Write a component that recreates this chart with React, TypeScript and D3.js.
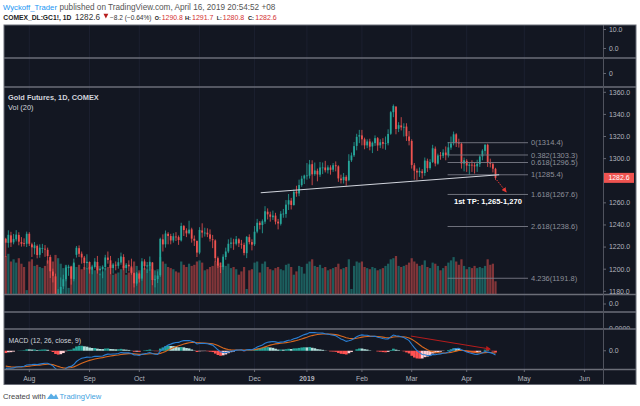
import { useRef, useEffect } from 'react';
import * as d3 from 'd3';

// date, open, high, low, close, volume (k contracts)
type Bar = [string, number, number, number, number, number];

const bars: Bar[] = [
  ['2018-07-19', 1227.5, 1228.4, 1211.1, 1224.0, 350],
  ['2018-07-20', 1223.8, 1235.2, 1219.5, 1231.1, 370],
  ['2018-07-23', 1230.6, 1233.8, 1220.1, 1224.1, 300],
  ['2018-07-24', 1224.3, 1231.9, 1222.5, 1227.4, 320],
  ['2018-07-25', 1227.0, 1235.3, 1225.1, 1231.3, 290],
  ['2018-07-26', 1231.0, 1233.4, 1221.6, 1224.9, 330],
  ['2018-07-27', 1224.5, 1229.0, 1220.4, 1223.0, 280],
  ['2018-07-30', 1223.5, 1227.9, 1220.6, 1223.0, 250],
  ['2018-07-31', 1223.0, 1234.0, 1220.0, 1232.0, 40],
  ['2018-08-01', 1232.0, 1233.5, 1221.0, 1223.0, 300],
  ['2018-08-02', 1222.5, 1224.0, 1211.0, 1219.8, 320],
  ['2018-08-03', 1219.0, 1224.5, 1213.4, 1221.6, 260],
  ['2018-08-06', 1221.0, 1222.3, 1209.8, 1212.8, 270],
  ['2018-08-07', 1213.0, 1222.5, 1210.4, 1219.5, 250],
  ['2018-08-08', 1219.0, 1222.9, 1214.6, 1219.0, 240],
  ['2018-08-09', 1218.5, 1221.8, 1211.2, 1218.0, 260],
  ['2018-08-10', 1217.5, 1219.5, 1205.0, 1211.9, 310],
  ['2018-08-13', 1211.0, 1213.0, 1192.0, 1198.1, 340],
  ['2018-08-14', 1197.9, 1200.5, 1188.0, 1194.0, 300],
  ['2018-08-15', 1193.5, 1196.0, 1167.0, 1174.2, 360],
  ['2018-08-16', 1174.5, 1182.0, 1167.1, 1177.7, 330],
  ['2018-08-17', 1177.0, 1192.5, 1175.0, 1184.0, 280],
  ['2018-08-20', 1184.5, 1195.0, 1182.0, 1190.9, 240],
  ['2018-08-21', 1191.0, 1203.5, 1189.0, 1201.6, 270],
  ['2018-08-22', 1201.0, 1204.0, 1194.0, 1202.3, 60],
  ['2018-08-23', 1202.0, 1203.0, 1186.0, 1191.4, 260],
  ['2018-08-24', 1191.0, 1209.5, 1189.0, 1206.0, 280],
  ['2018-08-27', 1213.0, 1221.0, 1210.5, 1219.4, 250],
  ['2018-08-28', 1219.0, 1221.5, 1211.0, 1213.9, 270],
  ['2018-08-29', 1214.0, 1216.0, 1205.0, 1210.6, 230],
  ['2018-08-30', 1210.5, 1212.0, 1199.5, 1205.6, 250],
  ['2018-08-31', 1205.5, 1213.5, 1200.0, 1206.7, 240],
  ['2018-09-04', 1206.5, 1207.0, 1196.0, 1199.8, 250],
  ['2018-09-05', 1199.5, 1204.0, 1195.4, 1202.4, 230],
  ['2018-09-06', 1202.0, 1210.0, 1200.5, 1206.9, 220],
  ['2018-09-07', 1206.5, 1212.0, 1196.0, 1199.0, 260],
  ['2018-09-10', 1199.0, 1203.0, 1194.5, 1200.5, 190],
  ['2018-09-11', 1200.0, 1203.5, 1191.8, 1202.2, 210],
  ['2018-09-12', 1202.0, 1213.0, 1199.0, 1210.6, 240],
  ['2018-09-13', 1210.5, 1216.0, 1205.0, 1208.4, 250],
  ['2018-09-14', 1208.0, 1212.0, 1195.5, 1201.1, 270],
  ['2018-09-17', 1201.0, 1205.5, 1196.0, 1204.2, 180],
  ['2018-09-18', 1204.0, 1207.0, 1199.0, 1203.4, 190],
  ['2018-09-19', 1203.0, 1210.0, 1200.5, 1206.3, 200],
  ['2018-09-20', 1206.0, 1215.0, 1204.0, 1211.5, 230],
  ['2018-09-21', 1211.0, 1213.5, 1199.0, 1201.1, 260],
  ['2018-09-24', 1201.0, 1205.5, 1196.5, 1204.0, 180],
  ['2018-09-25', 1204.0, 1208.0, 1198.0, 1202.6, 200],
  ['2018-09-26', 1202.5, 1209.5, 1195.0, 1196.7, 240],
  ['2018-09-27', 1196.5, 1197.0, 1183.5, 1187.2, 300],
  ['2018-09-28', 1187.0, 1197.5, 1185.0, 1196.2, 260],
  ['2018-10-01', 1196.0, 1197.0, 1188.0, 1191.4, 220],
  ['2018-10-02', 1191.5, 1210.0, 1189.5, 1207.1, 290],
  ['2018-10-03', 1207.0, 1209.0, 1199.5, 1202.8, 240],
  ['2018-10-04', 1202.5, 1206.5, 1196.5, 1203.4, 230],
  ['2018-10-05', 1203.0, 1211.5, 1198.5, 1206.7, 270],
  ['2018-10-08', 1206.0, 1206.5, 1185.5, 1190.2, 230],
  ['2018-10-09', 1190.0, 1194.5, 1183.5, 1191.0, 220],
  ['2018-10-10', 1191.0, 1198.0, 1187.5, 1194.2, 230],
  ['2018-10-11', 1194.5, 1228.5, 1193.0, 1227.4, 340],
  ['2018-10-12', 1227.0, 1231.5, 1216.0, 1222.4, 300],
  ['2018-10-15', 1222.5, 1235.0, 1219.5, 1232.3, 280],
  ['2018-10-16', 1232.0, 1233.5, 1222.5, 1230.0, 250],
  ['2018-10-17', 1230.0, 1232.0, 1222.5, 1226.0, 240],
  ['2018-10-18', 1226.0, 1232.5, 1224.0, 1229.8, 230],
  ['2018-10-19', 1229.5, 1233.5, 1225.5, 1229.1, 210],
  ['2018-10-22', 1229.0, 1230.5, 1222.0, 1226.4, 200],
  ['2018-10-23', 1226.0, 1242.0, 1225.0, 1239.1, 300],
  ['2018-10-24', 1239.0, 1240.0, 1230.0, 1235.4, 270],
  ['2018-10-25', 1235.0, 1237.0, 1229.0, 1232.4, 250],
  ['2018-10-26', 1232.5, 1243.8, 1231.5, 1235.8, 280],
  ['2018-10-29', 1236.0, 1237.5, 1224.0, 1227.6, 260],
  ['2018-10-30', 1227.5, 1230.5, 1221.0, 1225.8, 270],
  ['2018-10-31', 1225.5, 1226.0, 1211.0, 1215.0, 300],
  ['2018-11-01', 1215.0, 1238.0, 1213.5, 1235.5, 310],
  ['2018-11-02', 1235.0, 1241.5, 1228.5, 1233.1, 290],
  ['2018-11-05', 1233.0, 1237.5, 1229.5, 1233.1, 220],
  ['2018-11-06', 1233.0, 1237.0, 1229.0, 1231.5, 230],
  ['2018-11-07', 1231.5, 1236.0, 1225.0, 1227.5, 250],
  ['2018-11-08', 1227.0, 1231.0, 1219.0, 1226.4, 260],
  ['2018-11-09', 1226.0, 1227.0, 1206.5, 1210.0, 300],
  ['2018-11-12', 1210.0, 1211.5, 1201.0, 1203.2, 280],
  ['2018-11-13', 1203.0, 1206.0, 1196.5, 1202.3, 290],
  ['2018-11-14', 1202.0, 1213.5, 1199.5, 1211.3, 270],
  ['2018-11-15', 1211.0, 1219.5, 1208.5, 1216.0, 260],
  ['2018-11-16', 1216.0, 1227.0, 1214.5, 1223.0, 280],
  ['2018-11-19', 1223.0, 1228.5, 1219.0, 1224.1, 240],
  ['2018-11-20', 1224.0, 1227.5, 1217.5, 1223.3, 250],
  ['2018-11-21', 1223.0, 1230.0, 1221.5, 1227.2, 230],
  ['2018-11-23', 1227.0, 1228.0, 1220.0, 1223.4, 180],
  ['2018-11-26', 1223.0, 1226.5, 1218.5, 1222.2, 210],
  ['2018-11-27', 1222.0, 1224.0, 1212.5, 1214.7, 250],
  ['2018-11-28', 1214.5, 1230.0, 1210.0, 1229.2, 50],
  ['2018-11-29', 1229.0, 1231.5, 1222.5, 1224.5, 220],
  ['2018-11-30', 1224.5, 1227.0, 1217.0, 1222.2, 230],
  ['2018-12-03', 1222.5, 1239.0, 1221.0, 1233.9, 290],
  ['2018-12-04', 1234.0, 1245.5, 1232.5, 1242.0, 300],
  ['2018-12-05', 1242.0, 1243.5, 1236.0, 1240.0, 200],
  ['2018-12-06', 1240.0, 1245.0, 1232.5, 1243.4, 280],
  ['2018-12-07', 1243.0, 1257.0, 1241.0, 1252.4, 300],
  ['2018-12-10', 1252.0, 1255.0, 1245.0, 1249.6, 250],
  ['2018-12-11', 1249.5, 1252.0, 1243.0, 1247.4, 230],
  ['2018-12-12', 1247.0, 1253.0, 1244.5, 1248.5, 220],
  ['2018-12-13', 1248.5, 1251.0, 1240.5, 1243.0, 240],
  ['2018-12-14', 1243.0, 1245.5, 1236.0, 1241.4, 250],
  ['2018-12-17', 1241.0, 1252.5, 1239.5, 1250.1, 230],
  ['2018-12-18', 1250.0, 1254.5, 1246.5, 1250.3, 220],
  ['2018-12-19', 1250.0, 1262.5, 1246.5, 1258.4, 270],
  ['2018-12-20', 1258.5, 1268.0, 1253.5, 1262.4, 280],
  ['2018-12-21', 1262.0, 1264.5, 1254.0, 1258.1, 250],
  ['2018-12-24', 1258.0, 1272.0, 1257.5, 1269.9, 180],
  ['2018-12-26', 1270.0, 1275.5, 1265.5, 1268.6, 210],
  ['2018-12-27', 1268.5, 1281.0, 1266.0, 1276.1, 260],
  ['2018-12-28', 1276.0, 1284.5, 1274.5, 1281.9, 250],
  ['2018-12-31', 1282.0, 1285.5, 1277.0, 1284.7, 190],
  ['2019-01-02', 1284.5, 1296.0, 1281.0, 1284.8, 280],
  ['2019-01-03', 1284.5, 1298.8, 1282.0, 1294.8, 300],
  ['2019-01-04', 1295.0, 1298.5, 1276.0, 1285.8, 320],
  ['2019-01-07', 1286.0, 1296.5, 1284.5, 1289.3, 260],
  ['2019-01-08', 1289.0, 1291.0, 1279.5, 1285.7, 250],
  ['2019-01-09', 1285.5, 1297.0, 1283.5, 1292.0, 270],
  ['2019-01-10', 1292.0, 1296.5, 1286.0, 1292.0, 240],
  ['2019-01-11', 1292.0, 1298.0, 1287.5, 1289.5, 250],
  ['2019-01-14', 1289.5, 1294.0, 1286.5, 1292.1, 220],
  ['2019-01-15', 1292.0, 1294.0, 1285.5, 1289.8, 230],
  ['2019-01-16', 1290.0, 1296.0, 1288.0, 1294.0, 240],
  ['2019-01-17', 1294.0, 1297.5, 1288.5, 1293.1, 250],
  ['2019-01-18', 1293.0, 1294.0, 1279.0, 1282.1, 280],
  ['2019-01-22', 1282.0, 1285.5, 1277.5, 1280.5, 230],
  ['2019-01-23', 1280.5, 1287.0, 1277.5, 1283.5, 240],
  ['2019-01-24', 1283.5, 1285.0, 1275.5, 1280.0, 250],
  ['2019-01-25', 1280.5, 1304.0, 1279.5, 1298.0, 320],
  ['2019-01-28', 1298.5, 1305.5, 1297.0, 1302.9, 50],
  ['2019-01-29', 1303.0, 1315.0, 1301.5, 1311.3, 260],
  ['2019-01-30', 1311.5, 1322.5, 1307.5, 1319.7, 300],
  ['2019-01-31', 1320.0, 1326.0, 1314.0, 1321.2, 290],
  ['2019-02-01', 1321.0, 1326.0, 1312.0, 1317.5, 300],
  ['2019-02-04', 1317.5, 1319.0, 1308.5, 1312.0, 250],
  ['2019-02-05', 1312.0, 1317.5, 1309.5, 1315.5, 240],
  ['2019-02-06', 1315.5, 1318.0, 1307.5, 1310.8, 230],
  ['2019-02-07', 1311.0, 1315.5, 1305.0, 1314.4, 250],
  ['2019-02-08', 1314.0, 1321.0, 1311.5, 1318.5, 240],
  ['2019-02-11', 1318.5, 1319.5, 1307.0, 1311.9, 220],
  ['2019-02-12', 1312.0, 1317.5, 1309.5, 1314.8, 230],
  ['2019-02-13', 1315.0, 1318.5, 1309.0, 1313.4, 240],
  ['2019-02-14', 1313.5, 1320.0, 1308.0, 1314.2, 260],
  ['2019-02-15', 1314.0, 1326.5, 1312.0, 1322.3, 280],
  ['2019-02-19', 1322.5, 1343.0, 1321.5, 1342.0, 320],
  ['2019-02-20', 1342.0, 1349.0, 1337.5, 1347.6, 330],
  ['2019-02-21', 1347.0, 1347.5, 1322.0, 1326.8, 350],
  ['2019-02-22', 1327.0, 1333.0, 1324.0, 1330.3, 260],
  ['2019-02-25', 1330.0, 1337.5, 1325.5, 1328.3, 250],
  ['2019-02-26', 1328.0, 1332.0, 1320.0, 1328.8, 260],
  ['2019-02-27', 1329.0, 1332.0, 1316.0, 1320.3, 270],
  ['2019-02-28', 1320.0, 1325.0, 1312.0, 1316.1, 290],
  ['2019-03-01', 1316.0, 1317.5, 1291.0, 1294.3, 330],
  ['2019-03-04', 1294.0, 1296.0, 1281.0, 1289.1, 300],
  ['2019-03-05', 1289.0, 1291.0, 1280.5, 1287.5, 280],
  ['2019-03-06', 1287.5, 1292.0, 1283.5, 1288.8, 260],
  ['2019-03-07', 1288.5, 1290.5, 1282.0, 1286.9, 270],
  ['2019-03-08', 1287.0, 1301.0, 1284.5, 1298.3, 310],
  ['2019-03-11', 1298.0, 1300.0, 1288.0, 1291.4, 250],
  ['2019-03-12', 1291.5, 1299.5, 1290.0, 1296.9, 240],
  ['2019-03-13', 1297.0, 1312.5, 1296.0, 1309.4, 290],
  ['2019-03-14', 1309.0, 1311.0, 1293.0, 1295.6, 280],
  ['2019-03-15', 1295.5, 1304.5, 1294.5, 1302.9, 260],
  ['2019-03-18', 1303.0, 1306.0, 1299.0, 1302.4, 220],
  ['2019-03-19', 1302.5, 1308.5, 1300.5, 1305.5, 240],
  ['2019-03-20', 1305.5, 1311.0, 1298.5, 1303.0, 260],
  ['2019-03-21', 1303.0, 1315.0, 1301.0, 1310.2, 290],
  ['2019-03-22', 1310.0, 1320.0, 1308.0, 1313.7, 310],
  ['2019-03-25', 1314.0, 1324.5, 1312.0, 1322.0, 340],
  ['2019-03-26', 1322.0, 1323.0, 1310.5, 1314.4, 300],
  ['2019-03-27', 1314.5, 1318.0, 1310.0, 1313.8, 270],
  ['2019-03-28', 1313.5, 1314.5, 1291.0, 1295.5, 320],
  ['2019-03-29', 1295.5, 1301.0, 1288.5, 1298.5, 260],
  ['2019-04-01', 1298.0, 1299.5, 1288.0, 1293.7, 230],
  ['2019-04-02', 1293.5, 1296.0, 1285.5, 1294.6, 250],
  ['2019-04-03', 1294.5, 1298.5, 1288.0, 1294.2, 240],
  ['2019-04-04', 1294.0, 1296.5, 1286.5, 1293.0, 260],
  ['2019-04-05', 1293.0, 1299.0, 1288.0, 1295.3, 240],
  ['2019-04-08', 1295.0, 1303.0, 1292.5, 1301.9, 250],
  ['2019-04-09', 1302.0, 1308.5, 1298.5, 1307.2, 240],
  ['2019-04-10', 1307.0, 1313.0, 1304.0, 1312.6, 260],
  ['2019-04-11', 1312.5, 1313.5, 1292.5, 1296.3, 320],
  ['2019-04-12', 1296.0, 1300.0, 1292.0, 1295.3, 270],
  ['2019-04-15', 1295.0, 1296.5, 1287.5, 1290.9, 280],
  ['2019-04-16', 1290.8, 1291.7, 1280.8, 1282.6, 120],
];

// closes before the visible window (Jun 1 - Jul 18 2018), only used to seed the MACD
const warmupCloses = [
  1298.5, 1297.2, 1300.0, 1301.0, 1303.5, 1302.0, 1299.5, 1298.8, 1303.0, 1302.5,
  1278.9, 1281.5, 1276.5, 1273.0, 1270.6, 1272.0, 1268.7, 1260.8, 1256.4, 1250.9,
  1253.2, 1241.7, 1253.3, 1255.9, 1255.8, 1259.6, 1253.2, 1245.7, 1243.4, 1241.0,
  1239.7, 1227.1, 1225.0,
];

const priceTicks = [1180, 1200, 1220, 1240, 1260, 1280, 1300, 1320, 1340, 1360];

const monthTicks = [
  { label: 'Aug', date: '2018-08-01' },
  { label: 'Sep', date: '2018-09-04' },
  { label: 'Oct', date: '2018-10-01' },
  { label: 'Nov', date: '2018-11-01' },
  { label: 'Dec', date: '2018-12-03' },
  { label: '2019', date: '2019-01-02' },
  { label: 'Feb', date: '2019-02-01' },
  { label: 'Mar', date: '2019-03-01' },
  { label: 'Apr', date: '2019-04-01' },
  { label: 'May', date: '2019-05-01' },
  { label: 'Jun', date: '2019-06-03' },
];

const fibLevels = [
  { ratio: '0', price: 1314.4 },
  { ratio: '0.382', price: 1303.3 },
  { ratio: '0.618', price: 1296.5 },
  { ratio: '1', price: 1285.4 },
  { ratio: '1.618', price: 1267.6 },
  { ratio: '2.618', price: 1238.6 },
  { ratio: '4.236', price: 1191.8 },
];

// header pieces: left x, width, text, colour, bold
const headerLine1: [number, number, string, string, boolean][] = [
  [3, 54, 'Wyckoff_Trader', '#2196f3', false],
  [59.5, 217.5, 'published on TradingView.com, April 16, 2019 20:54:52 +08', '#555555', false],
];
const headerLine2: [number, number, string, string, boolean][] = [
  [3.3, 68, 'COMEX_DL:GC1!, 1D', '#222222', true],
  [75, 26, '1282.6', '#333333', false],
  [110, 41.5, '\u22128.2 (\u22120.64%)', '#333333', false],
  [154.8, 6, 'O:', '#222222', true],
  [161.8, 21, '1290.8', '#d32f2f', false],
  [185, 6, 'H:', '#222222', true],
  [192, 21.5, '1291.7', '#d32f2f', false],
  [216.8, 5, 'L:', '#222222', true],
  [222.8, 21.5, '1280.8', '#d32f2f', false],
  [248, 6, 'C:', '#222222', true],
  [255.3, 21.5, '1282.6', '#d32f2f', false],
];

// drawing anchors, in bar index / price units
const fibSpan = [168.7, 199.4];
const trendLine = [[97.35, 1269.1], [188.4, 1285.4]];
const tpArrow = [[187.45, 1280.7], [191.0, 1270.1]];
const tpLabel = { idx: 184.1, price: 1261.7, text: '1st TP: 1,265-1,270' };
const macdArrow = [[154.7, 11.9], [184.9, 1.4]];

const lastClose = 1282.6;

const BG = '#131722';
const UP = '#26a69a';
const DOWN = '#ef5350';
const AXIS_TXT = '#b2b5be';
const SEP = '#6b6e78';
const FONT = 'Liberation Sans, Arial, sans-serif';

function ema(values: number[], n: number) {
  const k = 2 / (n + 1);
  let e = values[0];
  return values.map((v, i) => (i === 0 ? e : (e = v * k + e * (1 - k))));
}

function weekdaysBetween(from: string, to: string) {
  // counts weekdays after `from` up to and including `to`
  const d = new Date(from + 'T00:00:00Z');
  const end = new Date(to + 'T00:00:00Z');
  let n = 0;
  while (d < end) {
    d.setUTCDate(d.getUTCDate() + 1);
    const wd = d.getUTCDay();
    if (wd !== 0 && wd !== 6) n++;
  }
  return n;
}

export default function App() {
  const svgRef = useRef<SVGSVGElement | null>(null);

  useEffect(() => {
    const svg = d3.select(svgRef.current);
    svg.selectAll('*').remove();

    const data = bars.map(([date, o, h, l, c, v], i) => ({ date, i, o, h, l, c, v }));
    const lastIdx = data.length - 1;
    const idxOf = (date: string) => {
      const found = data.find((d) => d.date === date);
      return found ? found.i : lastIdx + weekdaysBetween(data[lastIdx].date, date);
    };

    // panes
    const left = 4, right = 636, axisX = 603.5;
    const panes = {
      top1: [25, 58], top2: [58, 87], price: [87, 294.5], ind1: [294.5, 312], ind2: [312, 329], macd: [329, 369.5],
    };
    const bottom = 384.5;

    const x = d3.scaleLinear().domain([-0.66, 228.04]).range([left, axisX - 0.5]);
    const y = d3.scaleLinear().domain([1180, 1360]).range([291.3, 92.3]);
    const yVol = d3.scaleLinear().domain([0, 400]).range([panes.price[1], panes.price[1] - 44]);
    const yMacd = d3.scaleLinear().domain([-16, 16]).range([370.5, 331]);
    const step = x(1) - x(0);

    const defs = svg.append('defs');
    const clip = (id: string, y0: number, y1: number) => {
      defs.append('clipPath').attr('id', id)
        .append('rect').attr('x', left).attr('y', y0).attr('width', axisX - left).attr('height', y1 - y0);
    };
    clip('clip-price', panes.price[0], panes.price[1]);
    clip('clip-macd', panes.macd[0], panes.macd[1]);

    // header: each piece is sized so that its natural width fits its slot
    const headerRow = (rows: [number, number, string, string, boolean][], ty: number) => {
      rows.forEach(([px, w, t, col, bold]) => {
        const el = svg.append('text').attr('x', px).attr('y', ty)
          .attr('fill', col).style('font-family', FONT).style('font-size', '7.6px')
          .style('font-weight', bold ? 'bold' : 'normal').text(t);
        const node = el.node() as SVGTextElement | null;
        const natural = node ? node.getComputedTextLength() : 0;
        if (natural > 0) el.style('font-size', `${Math.min(8.2, (7.6 * w) / natural).toFixed(2)}px`);
      });
    };
    headerRow(headerLine1, 9.5);
    headerRow(headerLine2, 19.5);
    svg.append('path').attr('d', 'M103.5,13.8 L108.3,13.8 L105.9,18.6 Z').attr('fill', '#b71c1c');

    // chart background
    svg.append('rect').attr('x', left).attr('y', 25).attr('width', right - left).attr('height', bottom - 25)
      .attr('fill', BG);

    // vertical grid at month starts
    const gridG = svg.append('g');
    monthTicks.forEach((m) => {
      const gx = x(idxOf(m.date));
      gridG.append('line').attr('x1', gx).attr('x2', gx).attr('y1', 25).attr('y2', panes.macd[1])
        .attr('stroke', '#1c2030').attr('stroke-width', 1);
    });

    // volume
    const pg = svg.append('g').attr('clip-path', 'url(#clip-price)');
    pg.selectAll('rect.vol').data(data).enter().append('rect')
      .attr('x', (d) => x(d.i) - step * 0.42)
      .attr('width', step * 0.84)
      .attr('y', (d) => yVol(d.v))
      .attr('height', (d) => yVol(0) - yVol(d.v))
      .attr('fill', (d) => (d.c >= d.o ? UP : DOWN))
      .attr('fill-opacity', 0.5);

    // candles
    pg.selectAll('line.wick').data(data).enter().append('line')
      .attr('x1', (d) => x(d.i)).attr('x2', (d) => x(d.i))
      .attr('y1', (d) => y(d.h)).attr('y2', (d) => y(d.l))
      .attr('stroke', (d) => (d.c >= d.o ? UP : DOWN)).attr('stroke-width', 0.8);
    pg.selectAll('rect.body').data(data).enter().append('rect')
      .attr('x', (d) => x(d.i) - step * 0.34)
      .attr('width', step * 0.68)
      .attr('y', (d) => y(Math.max(d.o, d.c)))
      .attr('height', (d) => Math.max(0.8, Math.abs(y(d.o) - y(d.c))))
      .attr('fill', (d) => (d.c >= d.o ? UP : DOWN));

    // fibonacci levels
    fibLevels.forEach((f) => {
      const fy = y(f.price);
      pg.append('line').attr('x1', x(fibSpan[0])).attr('x2', x(fibSpan[1]))
        .attr('y1', fy).attr('y2', fy).attr('stroke', '#787b86').attr('stroke-width', 0.9);
      pg.append('text').attr('x', x(fibSpan[1]) + 3).attr('y', fy).attr('dy', '0.35em')
        .attr('fill', '#8d909a').style('font-family', FONT).style('font-size', '7.5px')
        .text(`${f.ratio}(${f.price.toFixed(1)})`);
    });

    // trend line
    pg.append('line')
      .attr('x1', x(trendLine[0][0])).attr('y1', y(trendLine[0][1]))
      .attr('x2', x(trendLine[1][0])).attr('y2', y(trendLine[1][1]))
      .attr('stroke', '#d1d4dc').attr('stroke-width', 1.1);

    // arrows
    const arrowHead = (id: string, color: string) => {
      defs.append('marker').attr('id', id).attr('viewBox', '0 0 10 10').attr('refX', 8).attr('refY', 5)
        .attr('markerWidth', 5).attr('markerHeight', 5).attr('orient', 'auto')
        .append('path').attr('d', 'M0,0 L10,5 L0,10 Z').attr('fill', color);
    };
    arrowHead('arr-red', '#e53935');
    arrowHead('arr-dark', '#b71c1c');
    pg.append('line')
      .attr('x1', x(tpArrow[0][0])).attr('y1', y(tpArrow[0][1]))
      .attr('x2', x(tpArrow[1][0])).attr('y2', y(tpArrow[1][1]))
      .attr('stroke', '#e53935').attr('stroke-width', 1).attr('stroke-dasharray', '1.5,1.2')
      .attr('marker-end', 'url(#arr-red)');

    pg.append('text').attr('x', x(tpLabel.idx)).attr('y', y(tpLabel.price)).attr('dy', '0.35em')
      .attr('text-anchor', 'middle').attr('fill', '#ffffff').style('font-family', FONT)
      .style('font-size', '7.6px').style('font-weight', 'bold').text(tpLabel.text);

    // titles
    svg.append('text').attr('x', 8).attr('y', 99.5).attr('fill', '#d1d4dc')
      .style('font-family', FONT).style('font-size', '7.4px').style('font-weight', 'bold')
      .text('Gold Futures, 1D, COMEX');
    svg.append('text').attr('x', 8).attr('y', 109.5).attr('fill', '#d1d4dc')
      .style('font-family', FONT).style('font-size', '7.4px').text('Vol (20)');

    // MACD
    const closes = [...warmupCloses, ...data.map((d) => d.c)];
    const e12 = ema(closes, 12);
    const e26 = ema(closes, 26);
    const macdAll = closes.map((_, i) => e12[i] - e26[i]);
    const sigAll = ema(macdAll, 9);
    const off = warmupCloses.length;
    const macd = data.map((d) => ({
      i: d.i, m: macdAll[off + d.i], s: sigAll[off + d.i], h: macdAll[off + d.i] - sigAll[off + d.i],
      hp: macdAll[off + d.i - 1] - sigAll[off + d.i - 1],
    }));
    const mg = svg.append('g').attr('clip-path', 'url(#clip-macd)');
    mg.selectAll('rect.hist').data(macd).enter().append('rect')
      .attr('x', (d) => x(d.i) - step / 2)
      .attr('width', step + 0.1)
      .attr('y', (d) => Math.min(yMacd(d.h), yMacd(0)))
      .attr('height', (d) => Math.abs(yMacd(d.h) - yMacd(0)))
      .attr('fill', (d) => (d.h >= 0 ? (d.h > d.hp ? UP : '#b2dfdb') : (d.h < d.hp ? '#ff5252' : '#ffcdd2')));
    mg.append('path').datum(macd)
      .attr('d', d3.line<{ i: number; s: number }>().x((d) => x(d.i)).y((d) => yMacd(d.s)))
      .attr('fill', 'none').attr('stroke', '#d9691f').attr('stroke-width', 1.1);
    mg.append('path').datum(macd)
      .attr('d', d3.line<{ i: number; m: number }>().x((d) => x(d.i)).y((d) => yMacd(d.m)))
      .attr('fill', 'none').attr('stroke', '#2a7fd4').attr('stroke-width', 1.1);
    mg.append('line')
      .attr('x1', x(macdArrow[0][0])).attr('y1', yMacd(macdArrow[0][1]))
      .attr('x2', x(macdArrow[1][0])).attr('y2', yMacd(macdArrow[1][1]))
      .attr('stroke', '#b71c1c').attr('stroke-width', 1).attr('marker-end', 'url(#arr-dark)');
    svg.append('text').attr('x', 8.5).attr('y', 342.5).attr('fill', '#d1d4dc')
      .style('font-family', FONT).style('font-size', '6.8px').text('MACD (12, 26, close, 9)');

    // separators and frame
    const sepG = svg.append('g');
    [panes.top2[0], panes.price[0], panes.ind1[0], panes.ind2[0], panes.macd[0], panes.macd[1]].forEach((sy) => {
      sepG.append('line').attr('x1', left).attr('x2', right).attr('y1', sy).attr('y2', sy)
        .attr('stroke', SEP).attr('stroke-width', 1.3);
    });
    sepG.append('line').attr('x1', axisX).attr('x2', axisX).attr('y1', 25).attr('y2', bottom)
      .attr('stroke', '#50535e').attr('stroke-width', 1);
    sepG.append('rect').attr('x', left).attr('y', 25).attr('width', right - left).attr('height', bottom - 25)
      .attr('fill', 'none').attr('stroke', SEP).attr('stroke-width', 1);

    // right axis labels
    const axG = svg.append('g').style('font-family', FONT).style('font-size', '6.9px').attr('fill', AXIS_TXT);
    const axisLabel = (ly: number, t: string, g = axG) => {
      g.append('line').attr('x1', axisX).attr('x2', axisX + 2.5).attr('y1', ly).attr('y2', ly)
        .attr('stroke', '#787b86').attr('stroke-width', 0.8);
      g.append('text').attr('x', 609).attr('y', ly).attr('dy', '0.35em').text(t);
    };
    axisLabel(29.5, '10.0');
    axisLabel(48.5, '0.0');
    axisLabel(73.5, '0');
    const ly = y(lastClose);
    // the tick label sitting under the last-price tag is hidden by it
    priceTicks.filter((p) => Math.abs(y(p) - ly) > 6).forEach((p) => axisLabel(y(p), p.toFixed(1)));
    axisLabel(304, '0.0');
    const ind2G = axG.append('g').attr('clip-path', 'url(#clip-ind2-axis)');
    defs.append('clipPath').attr('id', 'clip-ind2-axis')
      .append('rect').attr('x', axisX).attr('y', panes.ind2[0]).attr('width', right - axisX).attr('height', panes.ind2[1] - panes.ind2[0] - 0.6);
    axisLabel(329, '0.0000', ind2G);
    axisLabel(yMacd(0), '0.0');

    // last price tag
    svg.append('rect').attr('x', axisX + 0.5).attr('y', ly - 5).attr('width', 30).attr('height', 10)
      .attr('fill', '#ef5350');
    svg.append('text').attr('x', 619).attr('y', ly).attr('dy', '0.35em').attr('text-anchor', 'middle')
      .attr('fill', '#fff').style('font-family', FONT).style('font-size', '6.9px').text(lastClose.toFixed(1));

    // time axis
    const tG = svg.append('g').style('font-family', FONT).style('font-size', '6.9px').attr('fill', AXIS_TXT);
    monthTicks.forEach((m) => {
      const tx = x(idxOf(m.date));
      tG.append('line').attr('x1', tx).attr('x2', tx).attr('y1', panes.macd[1]).attr('y2', panes.macd[1] + 2.5)
        .attr('stroke', '#787b86').attr('stroke-width', 0.8);
      tG.append('text').attr('x', tx).attr('y', 378.8).attr('dy', '0.35em').attr('text-anchor', 'middle')
        .style('font-weight', m.label === '2019' ? 'bold' : 'normal').text(m.label);
    });

    // footer
    svg.append('text').attr('x', 3).attr('y', 399).attr('fill', '#444')
      .style('font-family', FONT).style('font-size', '7.6px').text('Created with');
    svg.append('path').attr('d', 'M47,399 L51,393.5 L54,396.5 L56,394 L58.5,399 Z').attr('fill', '#5aaee6');
    svg.append('text').attr('x', 59.5).attr('y', 399).attr('fill', '#3fa2e0')
      .style('font-family', FONT).style('font-size', '7.6px').text('TradingView');
  }, []);

  return (
    <svg ref={svgRef} width={640} height={406}
      style={{ position: 'absolute', left: 0, top: 0, background: '#fff' }} />
  );
}
